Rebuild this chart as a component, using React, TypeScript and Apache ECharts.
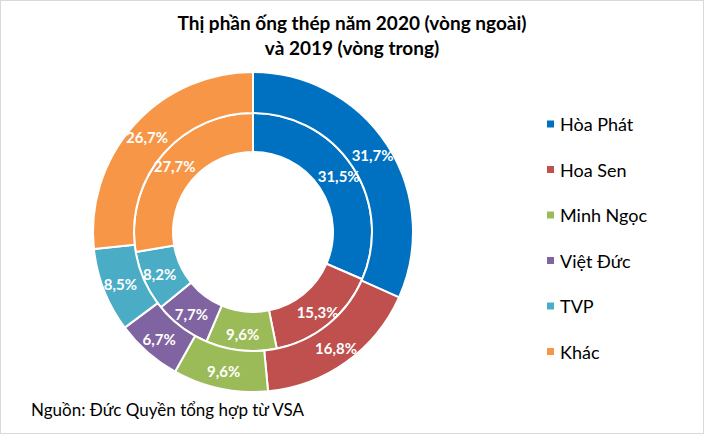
import React, { useEffect, useRef } from "react";
import * as echarts from "echarts";

const companies = ["Hòa Phát", "Hoa Sen", "Minh Ngọc", "Việt Đức", "TVP", "Khác"];
const share2020 = [31.7, 16.8, 9.6, 6.7, 8.5, 26.7];
const share2019 = [31.5, 15.3, 9.6, 7.7, 8.2, 27.7];
const colors = ["#0070C0", "#C0504D", "#9BBB59", "#8064A2", "#4BACC6", "#F79646"];
const titleText = "Thị phần ống thép năm 2020 (vòng ngoài)\nvà 2019 (vòng trong)";
const sourceText = "Nguồn: Đức Quyền tổng hợp từ VSA";

const FONT = "Lato, 'Open Sans', sans-serif";

export default function App() {
  const ref = useRef<HTMLDivElement>(null);
  useEffect(() => {
    document.body.style.margin = "0";
    const chart = echarts.init(ref.current!, null, { renderer: "svg" });
    const fmt = (p: any) => p.value.toFixed(1).replace(".", ",") + "%";
    const label = {
      show: true,
      position: "inside",
      formatter: fmt,
      color: "#fff",
      fontSize: 15,
      fontWeight: "bold",
      fontFamily: FONT,
    };
    chart.setOption({
      animation: false,
      color: colors,
      title: {
        text: titleText,
        left: "center",
        top: 4,
        textStyle: { fontFamily: FONT, fontSize: 19, fontWeight: "bold", color: "#000", lineHeight: 25 },
      },
      legend: {
        orient: "vertical",
        left: 544,
        top: 114,
        padding: 0,
        itemWidth: 9,
        itemHeight: 9,
        itemGap: 27.5,
        icon: "rect",
        data: companies,
        textStyle: { fontFamily: FONT, fontSize: 18, color: "#000" },
      },
      graphic: [
        {
          type: "text",
          left: 30,
          top: 400,
          style: { text: sourceText, font: "17px " + FONT, fill: "#000" },
        },
      ],
      series: [
        {
          name: "2019",
          type: "pie",
          center: [252, 231],
          radius: [80, 119],
          startAngle: 90,
          clockwise: true,
          label,
          labelLine: { show: false },
          itemStyle: { borderColor: "#fff", borderWidth: 2 },
          emphasis: { disabled: true },
          data: companies.map((n, i) => ({ name: n, value: share2019[i] })),
        },
        {
          name: "2020",
          type: "pie",
          center: [252, 231],
          radius: [119, 160],
          startAngle: 90,
          clockwise: true,
          label,
          labelLine: { show: false },
          itemStyle: { borderColor: "#fff", borderWidth: 2 },
          emphasis: { disabled: true },
          data: companies.map((n, i) => ({ name: n, value: share2020[i] })),
        },
      ],
    });
    return () => chart.dispose();
  }, []);
  return (
    <div
      ref={ref}
      style={{ width: 704, height: 434, boxSizing: "border-box", border: "1px solid #d9d9d9", background: "#fff" }}
    />
  );
}
